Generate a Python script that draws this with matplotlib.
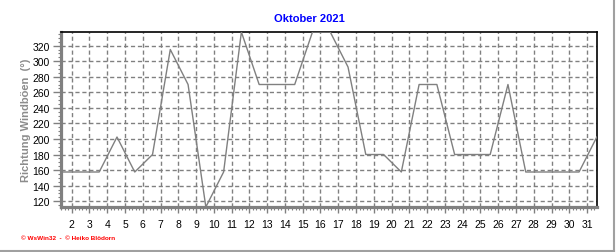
import numpy as np
import matplotlib.pyplot as plt
from matplotlib.lines import Line2D
from matplotlib.ticker import MultipleLocator

# daily wind gust direction (deg), October 2021, plotted at mid-day
days = list(range(1, 32))
direction = [157.5, 157.5, 157.5, 202.5, 157.5, 180, 315, 270, 112.5, 157.5,
             337.5, 270, 270, 270, 337.5, 337.5, 292.5, 180, 180, 157.5,
             270, 270, 180, 180, 180, 270, 157.5, 157.5, 157.5, 157.5, 202.5]
x_ticks = list(range(2, 32))
y_ticks = list(range(120, 340, 20))

plt.rcParams['font.family'] = ['Liberation Sans', 'DejaVu Sans']

fig = plt.figure(figsize=(6.16, 2.53), dpi=100)
ax = fig.add_axes([61 / 616, 1 - 208 / 253, 536 / 616, 175 / 253])

x = np.array(days) + 0.55
ax.plot(x, direction, color='#808080', linewidth=1.0, zorder=3)

ax.set_xlim(1.4, 31.56)
ax.set_ylim(112.5, 337.5)
ax.set_xticks(x_ticks)
ax.set_yticks(y_ticks)
ax.xaxis.set_minor_locator(MultipleLocator(0.2))
ax.yaxis.set_minor_locator(MultipleLocator(5))

ax.grid(True, which='major', color='#808080', linestyle=(0, (3, 2)), linewidth=1.0)
ax.tick_params(axis='y', which='major', labelsize=7.5, length=6, width=1,
               color='#808080', pad=2)
ax.tick_params(axis='x', which='major', labelsize=7.5, length=4, width=1,
               color='#808080', pad=5)
ax.tick_params(axis='both', which='minor', length=2, width=0.8, color='#808080')

for side in ['left', 'bottom']:
    ax.spines[side].set_color('#808080')
    ax.spines[side].set_linewidth(2.3)
for side in ['top', 'right']:
    ax.spines[side].set_color('black')
    ax.spines[side].set_linewidth(1.2)

fig.text(309 / 616, 1 - 19 / 253, 'Oktober 2021', color='#0000ff', fontsize=8,
         fontweight='bold', ha='center', va='center')
fig.text(26 / 616, 1 - 120 / 253, 'Richtung Windböen  (°)', color='#8c8c8c',
         fontsize=8, fontweight='bold', rotation=90, ha='center', va='center')
fig.text(21 / 616, 1 - 238.5 / 253, '© WsWin32  -  © Heiko Blödorn', color='#ff0000',
         fontsize=4.6, fontweight='bold', ha='left', va='center')

# window frame at the right and bottom edge
fig.add_artist(Line2D([0, 614 / 616], [1.5 / 253, 1.5 / 253], color='#a0a0a0', linewidth=1.5))
fig.add_artist(Line2D([614 / 616, 614 / 616], [1.5 / 253, 1], color='#a0a0a0', linewidth=1.5))

fig.savefig('out.png', dpi=100)
